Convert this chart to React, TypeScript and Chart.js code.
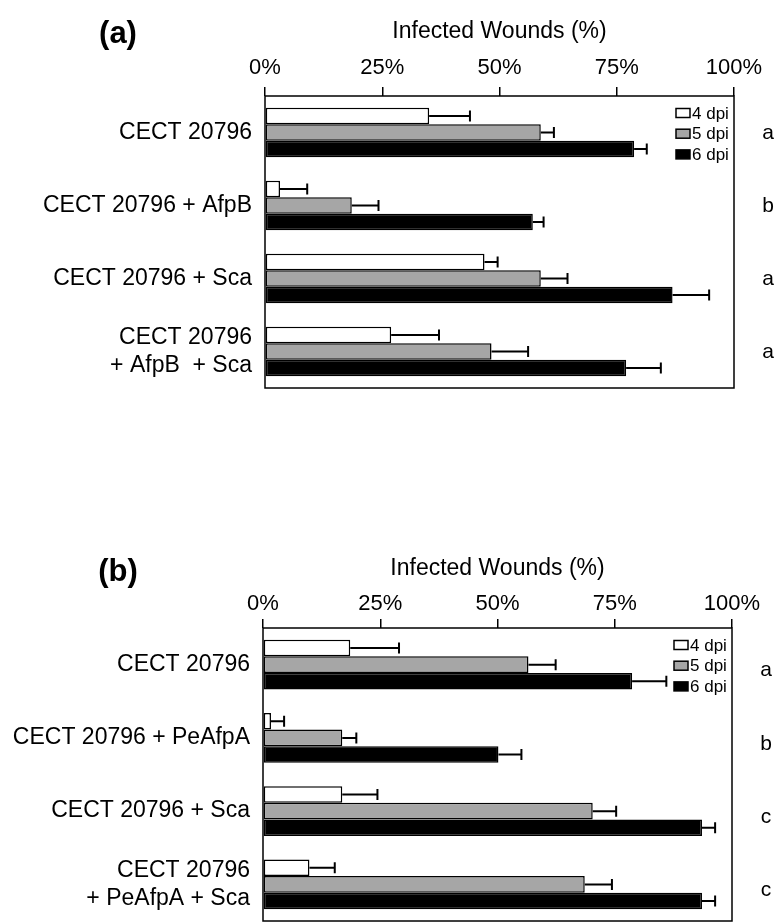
import React, { useEffect, useRef } from "react";
import { Chart, registerables } from "chart.js";

Chart.register(...registerables);

// ---------- Data ----------
const seriesLabels = ["4 dpi", "5 dpi", "6 dpi"];
const tickValues = [0, 25, 50, 75, 100];
const axisTitle = "Infected Wounds (%)";

const catsA: (string | string[])[] = [
  "CECT 20796",
  "CECT 20796 + AfpB",
  "CECT 20796 + Sca",
  ["CECT 20796", "+ AfpB  + Sca"],
];
const a4 = [35.0, 3.2, 46.8, 26.9];
const a4err = [8.7, 5.8, 2.8, 10.2];
const a5 = [58.8, 18.5, 58.8, 48.3];
const a5err = [2.8, 5.7, 5.7, 7.8];
const a6 = [78.7, 57.1, 86.9, 77.0];
const a6err = [2.7, 2.3, 7.8, 7.4];
const lettersA = ["a", "b", "a", "a"];

const catsB: (string | string[])[] = [
  "CECT 20796",
  "CECT 20796 + PeAfpA",
  "CECT 20796 + Sca",
  ["CECT 20796", "+ PeAfpA + Sca"],
];
const b4 = [18.6, 1.7, 16.9, 9.9];
const b4err = [10.4, 2.8, 7.5, 5.4];
const b5 = [56.6, 16.9, 70.3, 68.6];
const b5err = [5.8, 3.0, 5.0, 5.8];
const b6 = [78.7, 50.2, 93.6, 93.6];
const b6err = [7.3, 4.9, 2.8, 2.8];
const lettersB = ["a", "b", "c", "c"];

const colors = ["#ffffff", "#a6a6a6", "#000000"];
const FONT = "'Liberation Sans', Arial, Helvetica, sans-serif";

type PanelProps = {
  top: number;
  height: number;
  plotLeft: number;
  plotRight: number;
  plotTop: number;
  plotBottom: number;
  titlePad: number;
  tickPad: number;
  panelLabel: string;
  panelLabelY: number;
  letterDy: number;
  cats: (string | string[])[];
  values: number[][];
  errors: number[][];
  letters: string[];
};

function Panel(props: PanelProps) {
  const ref = useRef<HTMLCanvasElement | null>(null);
  useEffect(() => {
    const canvas = ref.current;
    if (!canvas) return;
    const W = 783;
    const overlay = {
      id: "overlay",
      afterDatasetsDraw(chart: any) {
        const ctx = chart.ctx;
        const area = chart.chartArea;
        const xs = chart.scales.x;
        const ys = chart.scales.y;
        ctx.save();
        // error bars
        chart.data.datasets.forEach((ds: any, di: number) => {
          const meta = chart.getDatasetMeta(di);
          meta.data.forEach((el: any, i: number) => {
            const v = ds.data[i];
            const e = ds.errors[i];
            const x0 = xs.getPixelForValue(v);
            const x1 = xs.getPixelForValue(v + e);
            const y = el.y;
            ctx.strokeStyle = "#000";
            ctx.lineWidth = 2;
            ctx.beginPath();
            ctx.moveTo(x0, y);
            ctx.lineTo(x1, y);
            ctx.moveTo(x1, y - 5.5);
            ctx.lineTo(x1, y + 5.5);
            ctx.stroke();
          });
        });
        // frame
        ctx.strokeStyle = "#000";
        ctx.lineWidth = 1.5;
        ctx.strokeRect(area.left, area.top, area.right - area.left, area.bottom - area.top);
        // letters
        ctx.fillStyle = "#000";
        ctx.font = `21px ${FONT}`;
        ctx.textAlign = "center";
        ctx.textBaseline = "middle";
        props.letters.forEach((l, i) => {
          ctx.fillText(l, area.right + 34, ys.getPixelForValue(i) + props.letterDy);
        });
        // legend
        ctx.font = `17px ${FONT}`;
        ctx.textAlign = "left";
        chart.data.datasets.forEach((ds: any, di: number) => {
          const cy = area.top + 17 + di * 20.7;
          ctx.fillStyle = ds.backgroundColor;
          ctx.fillRect(area.right - 58, cy - 4.5, 14, 9);
          ctx.lineWidth = 1.5;
          ctx.strokeStyle = "#000";
          ctx.strokeRect(area.right - 58, cy - 4.5, 14, 9);
          ctx.fillStyle = "#000";
          ctx.fillText(ds.label, area.right - 42, cy + 1);
        });
        // panel label
        ctx.font = `bold 31px ${FONT}`;
        ctx.textAlign = "center";
        ctx.fillText(props.panelLabel, 118, props.panelLabelY);
        ctx.restore();
      },
    };

    const chart = new Chart(canvas, {
      type: "bar",
      data: {
        labels: props.cats as any,
        datasets: seriesLabels.map((lab, i) => ({
          label: lab,
          data: props.values[i],
          errors: props.errors[i],
          backgroundColor: colors[i],
          borderColor: "#000",
          borderWidth: 1.5,
          borderSkipped: false,
          barPercentage: 1.0,
          categoryPercentage: 0.68,
        })) as any,
      },
      options: {
        animation: false,
        responsive: false,
        indexAxis: "y",
        layout: {
          padding: {
            left: 0,
            top: 0,
            right: W - props.plotRight,
            bottom: props.height - props.plotBottom,
          },
        },
        plugins: {
          legend: { display: false },
          tooltip: { enabled: false },
        },
        scales: {
          x: {
            position: "top",
            min: 0,
            max: 100,
            afterBuildTicks: (s: any) => {
              s.ticks = tickValues.map((v) => ({ value: v }));
            },
            ticks: {
              callback: (v: any) => v + "%",
              font: { family: FONT, size: 22 },
              color: "#000",
              padding: props.tickPad,
              maxRotation: 0,
              autoSkip: false,
            },
            grid: {
              drawOnChartArea: false,
              drawTicks: true,
              tickLength: 9,
              color: "#000",
              lineWidth: 1.5,
            },
            border: { display: false },
            title: {
              display: true,
              text: axisTitle,
              font: { family: FONT, size: 23 },
              color: "#000",
              padding: { top: props.titlePad, bottom: 0 },
            },
            afterFit: (s: any) => {
              s.height = props.plotTop;
            },
          },
          y: {
            ticks: {
              font: { family: FONT, size: 23 },
              color: "#000",
              padding: 5,
            },
            grid: { display: false },
            border: { display: false },
            afterFit: (s: any) => {
              s.width = props.plotLeft;
              s.paddingTop = 0;
              s.paddingBottom = 0;
            },
          },
        } as any,
      },
      plugins: [overlay],
    });
    return () => chart.destroy();
  }, []);
  return (
    <canvas
      ref={ref}
      width={783}
      height={props.height}
      style={{ position: "absolute", left: 0, top: props.top, width: 783, height: props.height, display: "block" }}
    />
  );
}

export default function App() {
  return (
    <div style={{ position: "absolute", left: 0, top: 0, width: 783, height: 922, background: "#fff", overflow: "hidden" }}>
      <Panel
        top={0}
        height={533}
        plotLeft={265}
        plotRight={734}
        plotTop={96}
        plotBottom={388}
        titlePad={18}
        tickPad={6}
        panelLabel="(a)"
        panelLabelY={34}
        letterDy={1}
        cats={catsA}
        values={[a4, a5, a6]}
        errors={[a4err, a5err, a6err]}
        letters={lettersA}
      />
      <Panel
        top={532}
        height={390}
        plotLeft={263}
        plotRight={732}
        plotTop={96}
        plotBottom={389}
        titlePad={23}
        tickPad={2}
        panelLabel="(b)"
        panelLabelY={40}
        letterDy={6}
        cats={catsB}
        values={[b4, b5, b6]}
        errors={[b4err, b5err, b6err]}
        letters={lettersB}
      />
    </div>
  );
}
